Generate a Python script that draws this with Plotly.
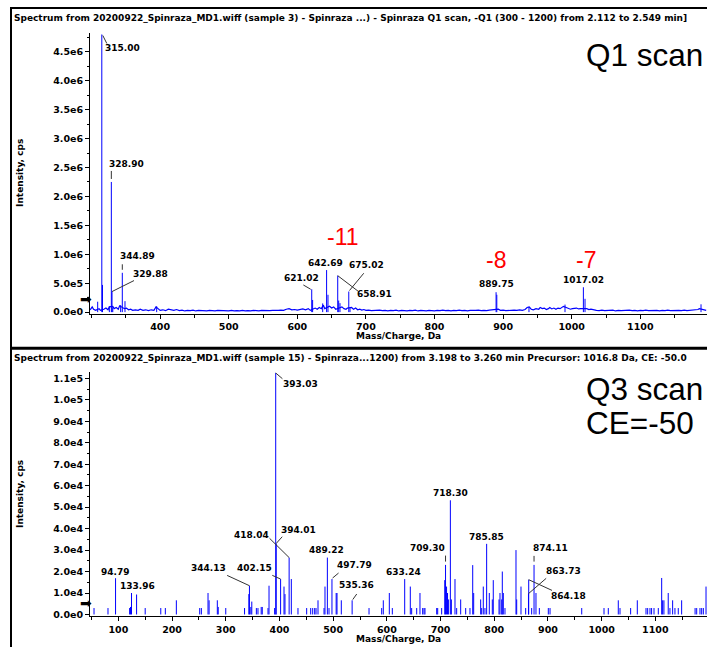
import plotly.graph_objects as go

# ---------------- DATA ----------------
# Top panel: Q1 scan (profile spectrum) -- peaks (m/z, intensity cps)
q1_peak_mz = [309.0, 315.00, 316.0, 326.0, 328.90, 329.88, 331.0, 342.5, 344.89, 348.8,
              395.0, 621.02, 622.3, 637.0, 642.69, 644.7, 658.91, 660.3, 662.2, 675.02,
              676.8, 889.75, 890.8, 937.7, 990.2, 1017.02, 1019.4, 1188.5]
q1_peak_int = [180000, 4800000, 470000, 100000, 2250000, 355000, 80000, 120000, 680000, 190000,
               100000, 395000, 210000, 150000, 727000, 300000, 630000, 200000, 155000, 356000,
               80000, 344000, 300000, 90000, 130000, 430000, 230000, 135000]
# Top panel baseline noise (m/z, kcps)
q1_noise_mz = [298, 301, 303, 306, 311, 313, 318, 321, 324, 326, 331, 333, 336, 339, 341, 348, 351, 354, 357, 360,
               364, 368, 371, 375, 379, 383, 387, 391, 394, 397, 400, 404, 408, 412, 416, 420, 424, 428, 432, 436,
               440, 444, 448, 452, 456, 460, 464, 468, 472, 476, 480, 484, 488, 492, 496, 500, 504, 508, 512, 516,
               520, 524, 528, 532, 536, 540, 544, 548, 552, 556, 560, 564, 568, 572, 576, 580, 584, 588, 592, 596,
               600, 604, 608, 612, 616, 619, 626, 629, 632, 635, 638, 640, 647, 650, 653, 656, 665, 668, 671, 673,
               679, 682, 685, 688, 691, 694, 697, 700, 704, 708, 712, 716, 720, 724, 728, 732, 736, 740, 744, 748,
               752, 756, 760, 764, 768, 772, 776, 780, 784, 788, 792, 796, 800, 804, 808, 812, 816, 820, 824, 828,
               832, 836, 840, 844, 848, 852, 856, 860, 864, 868, 872, 876, 880, 884, 887, 893, 896, 900, 904, 908,
               912, 916, 920, 924, 928, 932, 935, 938, 941, 944, 948, 952, 954, 957, 960, 963, 966, 968, 971, 974,
               977, 980, 983, 986, 988, 992, 995, 998, 1001, 1004, 1007, 1010, 1013, 1022, 1025, 1028, 1032, 1036,
               1040, 1044, 1048, 1052, 1056, 1060, 1064, 1068, 1072, 1076, 1080, 1084, 1088, 1092, 1096, 1100, 1104,
               1108, 1112, 1116, 1120, 1124, 1128, 1132, 1136, 1140, 1144, 1148, 1152, 1156, 1160, 1164, 1168, 1172,
               1176, 1180, 1184, 1186, 1190, 1193, 1196]
q1_noise_kcps = [40, 90, 50, 30, 60, 30, 50, 70, 40, 90, 100, 60, 80, 50, 110, 60, 70, 40, 50, 30,
                 40, 30, 50, 30, 40, 25, 40, 30, 90, 60, 30, 40, 25, 50, 40, 30, 45, 25, 35, 20,
                 30, 25, 35, 20, 30, 25, 30, 20, 30, 25, 20, 30, 25, 20, 25, 20, 30, 20, 25, 20,
                 30, 20, 25, 20, 30, 25, 20, 30, 25, 20, 25, 30, 25, 30, 35, 30, 50, 60, 40, 45,
                 35, 40, 55, 40, 60, 30, 70, 50, 80, 60, 120, 60, 100, 70, 90, 50, 90, 60, 50, 70,
                 80, 50, 70, 40, 50, 35, 45, 30, 35, 25, 30, 25, 35, 25, 30, 20, 30, 25, 35, 20,
                 30, 25, 20, 30, 25, 35, 20, 30, 25, 20, 30, 25, 20, 30, 25, 35, 25, 30, 20, 30,
                 25, 35, 25, 30, 20, 30, 25, 30, 35, 25, 30, 25, 35, 40, 50, 50, 30, 35, 25, 30,
                 25, 35, 30, 40, 30, 45, 80, 90, 50, 40, 60, 50, 80, 60, 70, 45, 60, 80, 55, 70,
                 50, 70, 60, 90, 100, 80, 70, 50, 60, 70, 70, 55, 60, 60, 45, 50, 35, 30,
                 25, 35, 25, 30, 25, 35, 20, 30, 25, 30, 25, 35, 25, 30, 20, 30, 25,
                 35, 25, 30, 25, 30, 20, 30, 25, 35, 25, 30, 25, 30, 25, 35, 25, 30,
                 25, 35, 45, 60, 50, 35, 30]
q1_label_mz = [315.00, 328.90, 344.89, 329.88, 621.02, 642.69, 658.91, 675.02, 889.75, 1017.02]
q1_label_int = [4800000, 2250000, 680000, 355000, 395000, 727000, 630000, 356000, 344000, 430000]
q1_ytick_vals = [0, 500000, 1000000, 1500000, 2000000, 2500000, 3000000, 3500000, 4000000, 4500000]
q1_ytick_text = ["0.0e0", "5.0e5", "1.0e6", "1.5e6", "2.0e6", "2.5e6", "3.0e6", "3.5e6", "4.0e6", "4.5e6"]
q1_xtick_vals = [400, 500, 600, 700, 800, 900, 1000, 1100]

# Bottom panel: Q3 scan (centroid spectrum) -- (m/z, intensity cps)
q3_mz = [54.7, 80.7, 94.79, 121.0, 122.7, 124.5, 133.96, 150.0, 179.0, 187.5,
         208.0, 251.5, 254.6, 267.0, 269.0, 284.3, 286.0, 300.0, 335.0, 343.0,
         344.13, 346.7, 348.5, 357.0, 360.0, 366.0, 368.0, 378.7, 380.6, 391.0,
         393.03, 394.01, 402.15, 408.5, 410.3, 418.04, 422.1, 434.5, 450.7, 458.2,
         461.9, 465.6, 468.1, 471.8, 483.0, 484.8, 489.22, 492.3, 497.79, 505.6,
         507.2, 515.2, 535.36, 566.8, 590.4, 593.4, 604.6, 610.2, 633.24, 643.7,
         646.2, 655.6, 661.7, 666.7, 669.2, 671.0, 692.8, 694.7, 702.1, 707.8,
         709.30, 711.2, 713.0, 715.0, 718.30, 720.2, 726.9, 730.0, 737.5, 746.8,
         754.8, 759.9, 761.7, 774.7, 776.6, 779.6, 782.7, 785.85, 790.8, 796.4,
         798.2, 808.9, 810.7, 813.9, 815.0, 816.9, 820.0, 840.5, 841.8, 849.8,
         858.5, 863.73, 864.18, 869.7, 874.11, 877.7, 884.0, 900.7, 903.9, 962.9,
         1004.4, 1012.4, 1031.0, 1034.2, 1054.0, 1066.4, 1082.6, 1085.7, 1090.0, 1093.0,
         1097.5, 1105.5, 1111.8, 1113.6, 1116.0, 1124.0, 1127.2, 1132.2, 1136.5, 1142.7,
         1149.0, 1174.0, 1177.0, 1183.1, 1186.3, 1189.4, 1194.4]
q3_int = [3000, 3000, 16900, 3000, 3500, 10000, 9300, 3000, 3000, 3000,
          6600, 3000, 3000, 10000, 6600, 6600, 3500, 3000, 3000, 9500,
          13400, 3500, 6000, 3000, 3000, 3500, 3500, 3000, 13400, 3000,
          112500, 33100, 16500, 13000, 9500, 26500, 16500, 3000, 3000, 3000,
          3000, 3000, 3000, 6600, 3000, 13000, 26500, 3000, 16500, 10000,
          10000, 6600, 6600, 3000, 3000, 6600, 10000, 3000, 16500, 13000,
          3000, 3000, 10000, 3000, 3000, 3000, 3000, 3000, 3000, 16000,
          23100, 13000, 10000, 7000, 53200, 7000, 16500, 3000, 7000, 3000,
          3000, 23000, 10000, 7000, 3000, 13000, 3000, 32900, 10000, 7000,
          16000, 7000, 10000, 7000, 20000, 10000, 3000, 30000, 7000, 13000,
          3000, 9700, 16200, 3000, 23100, 10000, 3000, 3000, 3000, 3000,
          3000, 3000, 6600, 3000, 3000, 6600, 3000, 3000, 3000, 3000,
          3000, 3000, 17000, 6600, 6600, 10000, 3000, 6600, 3000, 3000,
          6600, 3000, 3000, 3000, 3000, 3000, 13000]
q3_label_mz = [393.03, 394.01, 418.04, 402.15, 344.13, 94.79, 133.96, 489.22, 497.79, 535.36,
               633.24, 709.30, 718.30, 785.85, 874.11, 863.73, 864.18]
q3_label_int = [112500, 33100, 26500, 16500, 13400, 16900, 9300, 26500, 16500, 6600,
                16500, 23100, 53200, 32900, 23100, 9700, 16200]
q3_ytick_vals = [0, 10000, 20000, 30000, 40000, 50000, 60000, 70000, 80000, 90000, 100000, 110000]
q3_ytick_text = ["0.0e0", "1.0e4", "2.0e4", "3.0e4", "4.0e4", "5.0e4", "6.0e4", "7.0e4", "8.0e4",
                 "9.0e4", "1.0e5", "1.1e5"]
q3_xtick_vals = [100, 200, 300, 400, 500, 600, 700, 800, 900, 1000, 1100]

title_top = ("Spectrum from 20200922_Spinraza_MD1.wiff (sample 3) - Spinraza ...) - Spinraza Q1 scan, "
             "-Q1 (300 - 1200) from 2.112 to 2.549 min]")
title_bottom = ("Spectrum from 20200922_Spinraza_MD1.wiff (sample 15) - Spinraza...1200) from 3.198 to "
                "3.260 min Precursor: 1016.8 Da, CE: -50.0")

# ---------------- STYLE / LAYOUT ----------------
W, H = 707, 651
BLUE = "#0000ff"
LBL_FONT = dict(family="DejaVu Sans", size=9, color="black", weight="bold")
TITLE_FONT = dict(family="DejaVu Sans", size=9, color="black", weight="bold")
TICK_FONT = dict(family="DejaVu Sans", size=9.5, color="black", weight="bold")
BIG_FONT = dict(family="Arial, Liberation Sans", size=31.5, color="black")
RED_FONT = dict(family="Arial, Liberation Sans", size=23, color="#ff0000")


def fx(px):
    return px / W


def fy(py):
    return 1 - py / H


def sticks(mz, inten):
    xs, ys = [], []
    for m, v in zip(mz, inten):
        xs += [m, m, None]
        ys += [0, v, None]
    return xs, ys


fig = go.Figure()

x1, y1 = sticks(q1_peak_mz, q1_peak_int)
fig.add_trace(go.Scatter(x=q1_noise_mz, y=[v * 1000 for v in q1_noise_kcps], mode="lines",
                         line=dict(color=BLUE, width=1.2), xaxis="x", yaxis="y", hoverinfo="skip"))
fig.add_trace(go.Scatter(x=x1, y=y1, mode="lines", line=dict(color=BLUE, width=1),
                         xaxis="x", yaxis="y", hoverinfo="skip"))
x2, y2 = sticks(q3_mz, q3_int)
fig.add_trace(go.Scatter(x=x2, y=y2, mode="lines", line=dict(color=BLUE, width=1),
                         xaxis="x2", yaxis="y2", hoverinfo="skip"))

axis_common = dict(showline=True, linecolor="black", linewidth=1, ticks="outside", ticklen=4,
                   tickcolor="black", tickwidth=1, showgrid=False, zeroline=False,
                   tickfont=TICK_FONT, fixedrange=True)

fig.update_layout(
    width=W, height=H, margin=dict(l=0, r=0, t=0, b=0),
    paper_bgcolor="white", plot_bgcolor="white", showlegend=False,
    xaxis=dict(domain=[fx(90), 1], range=[297.8, 1197.2], anchor="y", tickvals=q1_xtick_vals,
               minor=dict(ticks="outside", ticklen=3, dtick=50, tick0=0, tickcolor="black"),
               **axis_common),
    yaxis=dict(domain=[fy(315.5), fy(33)], range=[-25000, 4829000], anchor="x",
               tickvals=q1_ytick_vals, ticktext=q1_ytick_text,
               minor=dict(ticks="outside", ticklen=2, dtick=250000, tick0=0, tickcolor="black"),
               **axis_common),
    xaxis2=dict(domain=[fx(90), 1], range=[47.2, 1196.2], anchor="y2", tickvals=q3_xtick_vals,
                minor=dict(ticks="outside", ticklen=3, dtick=50, tick0=0, tickcolor="black"),
                **axis_common),
    yaxis2=dict(domain=[fy(620), fy(374)], range=[-800, 113100], anchor="x2",
                tickvals=q3_ytick_vals, ticktext=q3_ytick_text,
                minor=dict(ticks="outside", ticklen=2, dtick=5000, tick0=0, tickcolor="black"),
                **axis_common),
)

annotations = []
shapes = []

# peak labels: (label-centre offset dx, dy in px from the peak tip; y down) + leader lines
q1_label_off = [(21, 14), (15, -18), (15, -17), (38, -18), (-10, -11.5),
                (-1.5, -7), (37, 18.7), (17.7, -26.3), (0, -8), (0, -7)]
q1_leaders = [(1, 1, 5, 9), (0, -3, 0, -11), (0, -3, 0, -8.5), (0, 0, 22, -11), (-8.4, -4.3, -1, 0),
              None, (0, 0, 21, 16), (0.7, -1, 15, -18.3), None, None]
q3_label_off = [(24.3, 11), (22.3, -13.2), (-37.8, -22.5), (-26.4, -11.2), (-41.3, -17.8),
                (-0.6, -6), (0.6, -8.3), (-0.7, -8), (22.6, -13.7), (4.5, -15),
                (-0.9, -7), (-18.2, -16.8), (0, -7.5), (0, -6.5), (16, -16.5),
                (35.5, -23.1), (39.7, 16.2)]
q3_leaders = [(0, 0, 6.7, 5.7), (0, 0, 6, -6.7), (-19.6, -19.3, 0, 0), (-8.3, -3.7, 0, 0),
              (-22.3, -10.3, 0, 0), None, None, None, (0.6, -1, 6.6, -6), (0.6, -0.7, 4.6, -6.3),
              None, (0, -3.3, 0, -9.3), None, None, (0, -3.3, 0, -9), (0, 0, 17.7, -15.3),
              (0, 0, 23.3, 10.7)]

for (xr, yr, mzs, ints, offs, leads) in [("x", "y", q1_label_mz, q1_label_int, q1_label_off, q1_leaders),
                                         ("x2", "y2", q3_label_mz, q3_label_int, q3_label_off, q3_leaders)]:
    for m, v, (dx, dy), ld in zip(mzs, ints, offs, leads):
        annotations.append(dict(x=m, y=v, xref=xr, yref=yr, text=f"{m:.2f}", showarrow=False,
                                xanchor="center", yanchor="middle", xshift=dx, yshift=-dy,
                                font=LBL_FONT))
        if ld is not None:
            shapes.append(dict(type="line", xref=xr, yref=yr, xsizemode="pixel", ysizemode="pixel",
                               xanchor=m, yanchor=v, x0=ld[0], y0=-ld[1], x1=ld[2], y1=-ld[3],
                               line=dict(color="#333333", width=1)))

# titles of the two spectra
annotations.append(dict(x=fx(12), y=fy(11), xref="paper", yref="paper", text=title_top,
                        showarrow=False, xanchor="left", yanchor="top", font=TITLE_FONT))
annotations.append(dict(x=fx(12), y=fy(353), xref="paper", yref="paper", text=title_bottom,
                        showarrow=False, xanchor="left", yanchor="top", font=TITLE_FONT))
# axis titles
for yc in (174, 497):
    annotations.append(dict(x=fx(20), y=fy(yc), xref="paper", yref="paper", text="Intensity, cps",
                            showarrow=False, textangle=-90, xanchor="center", yanchor="middle",
                            font=LBL_FONT))
for yc in (338, 643):
    annotations.append(dict(x=fx(398.5), y=fy(yc), xref="paper", yref="paper", text="Mass/Charge, Da",
                            showarrow=False, xanchor="center", yanchor="middle", font=LBL_FONT))
# threshold arrows
for yc in (301, 607):
    annotations.append(dict(x=fx(85.5), y=fy(yc), xref="paper", yref="paper", text="➡",
                            showarrow=False, xanchor="center", yanchor="middle",
                            font=dict(family="DejaVu Sans", size=14, color="black")))
# big callouts
annotations.append(dict(x=fx(584), y=fy(55), xref="paper", yref="paper", text="Q1 scan",
                        showarrow=False, xanchor="left", yanchor="middle", font=BIG_FONT))
annotations.append(dict(x=fx(584), y=fy(391), xref="paper", yref="paper", text="Q3 scan",
                        showarrow=False, xanchor="left", yanchor="middle", font=BIG_FONT))
annotations.append(dict(x=fx(584), y=fy(426), xref="paper", yref="paper", text="CE=-50",
                        showarrow=False, xanchor="left", yanchor="middle", font=BIG_FONT))
for txt, xc, yc in (("-11", 342.5, 238), ("-8", 495.5, 262), ("-7", 586, 262)):
    annotations.append(dict(x=fx(xc), y=fy(yc), xref="paper", yref="paper", text=txt,
                            showarrow=False, xanchor="center", yanchor="middle", font=RED_FONT))

# panel frames
shapes.append(dict(type="line", xref="paper", yref="paper", x0=fx(10), x1=1, y0=fy(8), y1=fy(8),
                   line=dict(color="black", width=2)))
shapes.append(dict(type="line", xref="paper", yref="paper", x0=fx(11), x1=fx(11), y0=fy(8), y1=0,
                   line=dict(color="black", width=2)))
shapes.append(dict(type="line", xref="paper", yref="paper", x0=fx(10), x1=1, y0=fy(350.5), y1=fy(350.5),
                   line=dict(color="black", width=3)))

fig.update_layout(annotations=annotations, shapes=shapes)
fig.write_html("out.html", config={"displayModeBar": False},
               post_script="document.body.style.margin='0';document.body.style.overflow='hidden';")
